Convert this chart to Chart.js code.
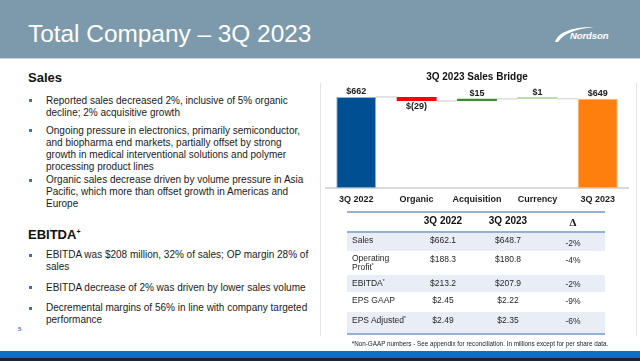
<!DOCTYPE html>
<html>
<head>
<meta charset="utf-8">
<script src="https://cdn.jsdelivr.net/npm/chart.js@4.4.0/dist/chart.umd.min.js"></script>
<style>
  html, body { margin:0; padding:0; }
  body { width:640px; height:361px; overflow:hidden; background:#fff; position:relative;
         font-family:"Liberation Sans", Arial, Helvetica, sans-serif; color:#1a1a1a; }
  .abs { position:absolute; white-space:nowrap; }
  #header { left:0; top:0; width:640px; height:58px; background:#7c9aab; }
  #headerLine { left:0; top:58px; width:640px; height:1px; background:#c9d5dc; }
  #title { left:28px; top:22px; font-size:24.4px; line-height:24px; color:#fff; }
  #logoText { left:570px; top:30px; font-size:9.5px; line-height:11px; font-weight:bold; font-style:italic; color:#fff; letter-spacing:-0.1px; }
  .head { left:28px; font-size:13px; line-height:15px; font-weight:bold; color:#111; }
  .bul { left:46px; font-size:10px; line-height:12px; color:#1a1a1a; }
  .sq { position:absolute; width:3px; height:3px; background:#2f74d0; }
  #divL { left:320px; top:83px; width:1px; height:253px; background:#e3e3e3; }
  #divR { left:636px; top:83px; width:1px; height:253px; background:#e3e3e3; }
  #bottomBar { left:0; top:351px; width:640px; height:7px; background:#0b71c4; }
  #bottomDark { left:0; top:358px; width:640px; height:3px; background:#1b2230; }
  #pnum { left:18px; top:326px; font-size:6px; line-height:7px; color:#2f74d0; font-weight:bold; }
  #chartBox { position:absolute; left:320px; top:62px; width:316px; height:151px; }
  .cell { position:absolute; white-space:nowrap; font-size:8.5px; line-height:10px; color:#262626; }
  .hcell { position:absolute; white-space:nowrap; font-size:10px; line-height:12px; font-weight:bold; color:#111; text-align:center; }
  #foot { left:345px; top:340px; width:270px; text-align:center; font-size:6.3px; line-height:8px; color:#222; }
</style>
</head>
<body>
<div id="header" class="abs"></div>
<div id="headerLine" class="abs"></div>
<div id="title" class="abs">Total Company – 3Q 2023</div>
<svg class="abs" style="left:0;top:0" width="640" height="58">
  <path d="M555,42 C558,33 570,27 594,27 C575,29 563,34 558,42 Z" fill="#ffffff"/>
</svg>
<div id="logoText" class="abs">Nordson</div>

<div class="abs head" style="top:69.5px">Sales</div>
<div class="abs head" style="top:226.5px">EBITDA<sup style="font-size:7px;vertical-align:5px;line-height:0">+</sup></div>

<div id="bullets"></div>

<div id="divL" class="abs"></div>
<div id="divR" class="abs"></div>

<div id="chartBox"><canvas id="c" width="316" height="151"></canvas></div>

<div id="table"></div>
<div id="foot" class="abs">*Non-GAAP numbers - See appendix for reconciliation. In millions except for per share data.</div>

<div id="pnum" class="abs">5</div>
<div id="bottomBar" class="abs"></div>
<div id="bottomDark" class="abs"></div>

<script>
// ---------- chart data ----------
const categories = ['3Q 2022', 'Organic', 'Acquisition', 'Currency', '3Q 2023'];
const changes    = [662, -29, 15, 1, 649];
const isTotal    = [true, false, false, false, true];
const barColors  = ['#004f93', '#ff0000', '#3f8a2f', '#a9d18e', '#ff7f0e'];
const barBorders = ['#8fb4dc', '#ff0000', '#3f8a2f', '#a9d18e', '#ffb26b'];
const chartTitle = '3Q 2023 Sales Bridge';

// ---------- table data ----------
const tableHeaders = ['3Q 2022', '3Q 2023', 'Δ'];
const rowLabels    = ['Sales', 'Operating<br>Profit<sup>*</sup>', 'EBITDA<sup>*</sup>', 'EPS GAAP', 'EPS Adjusted<sup>*</sup>'];
const col2022      = ['$662.1', '$188.3', '$213.2', '$2.45', '$2.49'];
const col2023      = ['$648.7', '$180.8', '$207.9', '$2.22', '$2.35'];
const colDelta     = ['-2%', '-4%', '-2%', '-9%', '-6%'];

// ---------- text ----------
const salesBullets = [
  ['Reported sales decreased 2%, inclusive of 5% organic', 'decline; 2% acquisitive growth'],
  ['Ongoing pressure in electronics, primarily semiconductor,', 'and biopharma end markets, partially offset by strong', 'growth in medical interventional solutions and polymer', 'processing product lines'],
  ['Organic sales decrease driven by volume pressure in Asia', 'Pacific, which more than offset growth in Americas and', 'Europe']
];
const ebitdaBullets = [
  ['EBITDA was $208 million, 32% of sales; OP margin 28% of', 'sales'],
  ['EBITDA decrease of 2% was driven by lower sales volume'],
  ['Decremental margins of 56% in line with company targeted', 'performance']
];
const salesTops  = [94.7, 124.7, 174];
const ebitdaTops = [249, 281.7, 302.3];

const bulletsEl = document.getElementById('bullets');
function addBullets(list, tops) {
  list.forEach((lines, i) => {
    const d = document.createElement('div');
    d.className = 'abs bul';
    d.style.top = tops[i] + 'px';
    d.innerHTML = lines.join('<br>');
    bulletsEl.appendChild(d);
    const s = document.createElement('div');
    s.className = 'sq';
    s.style.left = '29px';
    s.style.top = (tops[i] + 4.5) + 'px';
    bulletsEl.appendChild(s);
  });
}
addBullets(salesBullets, salesTops);
addBullets(ebitdaBullets, ebitdaTops);

// ---------- table ----------
(function buildTable() {
  const t = document.getElementById('table');
  const left = 347, right = 605;
  const rowTops = [232, 251, 275, 292, 312, 333];
  const colCenters = [443, 508, 573];
  const add = (html) => { t.insertAdjacentHTML('beforeend', html); };
  for (let r = 0; r < 5; r++) {
    if (r % 2 === 0) add(`<div class="abs" style="left:${left}px;top:${rowTops[r]}px;width:${right-left}px;height:${rowTops[r+1]-rowTops[r]}px;background:#e9eef6"></div>`);
  }
  add(`<div class="abs" style="left:${left}px;top:211px;width:${right-left}px;height:2px;background:#94b1d3"></div>`);
  add(`<div class="abs" style="left:${left}px;top:231px;width:${right-left}px;height:1.5px;background:#94b1d3"></div>`);
  add(`<div class="abs" style="left:${left}px;top:332.5px;width:${right-left}px;height:2px;background:#94b1d3"></div>`);
  tableHeaders.forEach((h, i) => {
    const isDelta = h === 'Δ';
    add(`<div class="hcell" style="left:${colCenters[i]-30}px;width:60px;top:${isDelta?216:214.5}px;${isDelta?'font-family:\'Liberation Serif\',serif;font-size:11px;':''}">${h}</div>`);
  });
  for (let r = 0; r < 5; r++) {
    const top = rowTops[r] + 3;
    add(`<div class="cell" style="left:352px;top:${top - (r===1?0.5:0)}px;${r===1?'line-height:9.5px;':''}">${rowLabels[r].replace(/<sup>\*<\/sup>/g,'<sup style="font-size:5px;vertical-align:3px;line-height:0">*</sup>')}</div>`);
    add(`<div class="cell" style="left:${colCenters[0]-30}px;width:60px;text-align:center;top:${top}px">${col2022[r]}</div>`);
    add(`<div class="cell" style="left:${colCenters[1]-30}px;width:60px;text-align:center;top:${top}px">${col2023[r]}</div>`);
    add(`<div class="cell" style="left:${colCenters[2]-30}px;width:60px;text-align:center;top:${top + (r===0?2.5:0.5)}px">${colDelta[r]}</div>`);
  }
})();

// ---------- waterfall ranges ----------
const ranges = [];
const levels = [];
let running = 0;
changes.forEach((v, i) => {
  if (isTotal[i]) { ranges.push([0, v]); running = v; }
  else { const a = running, b = running + v; ranges.push([Math.min(a,b), Math.max(a,b)]); running = b; }
  levels.push(running);
});
const valueLabels = changes.map((v, i) => v < 0 ? '$(' + Math.abs(v) + ')' : '$' + v);

const connectorPlugin = {
  id: 'connectors',
  beforeDatasetsDraw(chart) {
    const ctx = chart.ctx, meta = chart.getDatasetMeta(0), y = chart.scales.y;
    ctx.save();
    ctx.strokeStyle = '#dcdcdc';
    ctx.lineWidth = 1.5;
    for (let i = 0; i < meta.data.length - 1; i++) {
      const a = meta.data[i], b = meta.data[i + 1];
      const py = y.getPixelForValue(levels[i]);
      ctx.beginPath();
      ctx.moveTo(a.x + a.width / 2, py);
      ctx.lineTo(b.x - b.width / 2, py);
      ctx.stroke();
    }
    ctx.restore();
  }
};
const labelPlugin = {
  id: 'valueLabels',
  afterDatasetsDraw(chart) {
    const ctx = chart.ctx, meta = chart.getDatasetMeta(0);
    ctx.save();
    ctx.font = 'bold 9px "Liberation Sans", Arial, sans-serif';
    ctx.fillStyle = '#1a1a1a';
    ctx.textAlign = 'center';
    meta.data.forEach((el, i) => {
      const top = Math.min(el.y, el.base), bot = Math.max(el.y, el.base);
      if (changes[i] < 0) { ctx.textBaseline = 'top'; ctx.fillText(valueLabels[i], el.x, bot + 1.5); }
      else { ctx.textBaseline = 'bottom'; ctx.fillText(valueLabels[i], el.x, top - 0.5); }
    });
    ctx.restore();
  }
};

new Chart(document.getElementById('c'), {
  type: 'bar',
  data: {
    labels: categories,
    datasets: [{
      data: ranges,
      backgroundColor: barColors,
      borderColor: barBorders,
      borderWidth: [1, 0, 0, 0, 1],
      borderSkipped: false,
      minBarLength: 1.5,
      barPercentage: 0.66,
      categoryPercentage: 1.0
    }]
  },
  options: {
    responsive: false,
    animation: false,
    layout: { padding: { left: 6, right: 8, top: 0, bottom: 2 } },
    plugins: {
      legend: { display: false },
      tooltip: { enabled: false },
      title: {
        display: true, text: chartTitle, color: '#111',
        font: { family: '"Liberation Sans", Arial, sans-serif', size: 10, weight: 'bold' },
        padding: { top: 9, bottom: 7 }
      }
    },
    scales: {
      x: {
        grid: { display: false, drawTicks: false },
        border: { display: true, color: '#d9d9d9', width: 2 },
        ticks: { color: '#1a1a1a', padding: 6, font: { family: '"Liberation Sans", Arial, sans-serif', size: 9, weight: 'bold' } }
      },
      y: { display: false, min: 0, max: 712 }
    }
  },
  plugins: [connectorPlugin, labelPlugin]
});
</script>
</body>
</html>
